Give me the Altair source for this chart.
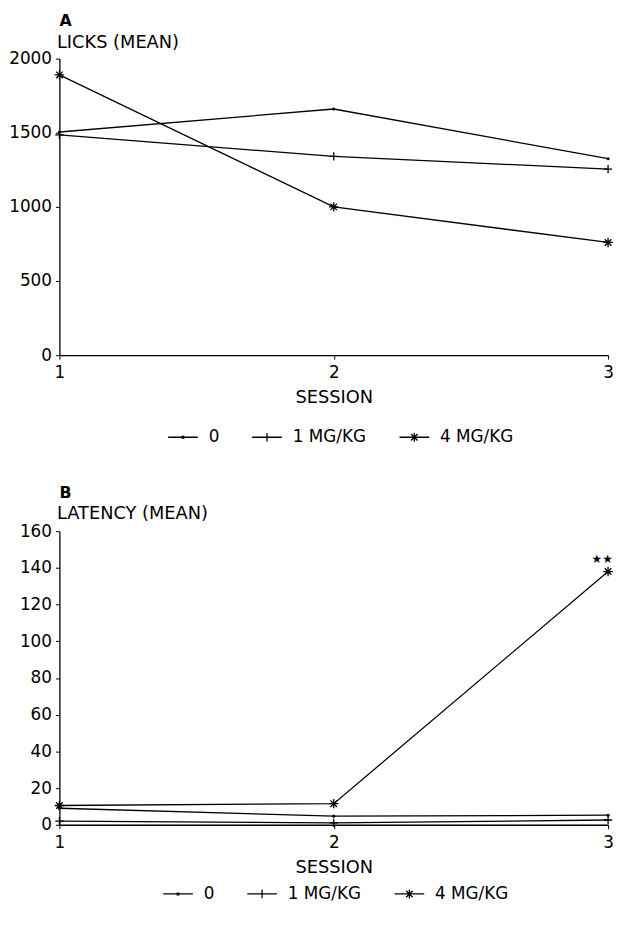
import altair as alt
import pandas as pd

# ---------------- data ----------------
sessions = [1, 2, 3]
groups = ["0", "1 MG/KG", "4 MG/KG"]

licks_0 = [1505, 1660, 1325]
licks_1 = [1485, 1340, 1255]
licks_4 = [1890, 1000, 760]

latency_0 = [9, 4.7, 5.2]
latency_1 = [2, 1, 2.6]
latency_4 = [10.5, 11.5, 138]

licks_ticks = [0, 500, 1000, 1500, 2000]
latency_ticks = [0, 20, 40, 60, 80, 100, 120, 140, 160]

sig_session = [3]
sig_value = [145]
sig_text = ["★★"]

# ---------------- style ----------------
FONT = "DejaVu Sans"
marker_shape = {
    "0": "circle",
    "1 MG/KG": "M-1,0L1,0M0,-1L0,1",
    "4 MG/KG": "M-1,0L1,0M0,-1L0,1M-0.7,-0.7L0.7,0.7M-0.7,0.7L0.7,-0.7",
}
marker_size = {"0": 10, "1 MG/KG": 70, "4 MG/KG": 90}
legend_paths = [
    "M-1.5,0L1.5,0M-0.08,-0.08L0.08,-0.08L0.08,0.08L-0.08,0.08Z",
    "M-1.5,0L1.5,0M0,-0.42L0,0.42",
    "M-1.5,0L1.5,0M0,-0.45L0,0.45M-0.33,-0.33L0.33,0.33M-0.33,0.33L0.33,-0.33",
]


def long_frame(series):
    rows = []
    for g, vals in zip(groups, series):
        for s, v in zip(sessions, vals):
            rows.append({"session": s, "group": g, "value": v})
    return pd.DataFrame(rows)


def panel(df, letter, ytitle, yticks, width, height, title_y, title_offset,
          legend_x, legend_y, note=None):
    x = alt.X(
        "session:Q",
        scale=alt.Scale(domain=[sessions[0], sessions[-1]], nice=False, zero=False),
        axis=alt.Axis(
            tickCount=len(sessions), tickMinStep=1, format="d", title="SESSION", grid=False,
            labelFont=FONT, labelFontSize=17, labelColor="black", labelPadding=6,
            tickSize=4, tickColor="black", domainColor="black", domainWidth=1.3,
            titleFont=FONT, titleFontSize=18, titleFontWeight="normal",
            titleColor="black", titlePadding=8, labelFlush=False, labelOverlap=False,
        ),
    )
    y = alt.Y(
        "value:Q",
        scale=alt.Scale(domain=[yticks[0], yticks[-1]], nice=False),
        axis=alt.Axis(
            values=yticks, format="d", title=ytitle, grid=False,
            labelFont=FONT, labelFontSize=17, labelColor="black", labelPadding=4,
            tickSize=4, tickColor="black", domainColor="black", domainWidth=1.3,
            titleFont=FONT, titleFontSize=18, titleFontWeight="normal",
            titleColor="black", titleAngle=0, titleAlign="left",
            titleBaseline="alphabetic", titleX=-3, titleY=title_y,
            labelOverlap=False,
        ),
    )
    base = alt.Chart(df)
    layers = [
        base.mark_line(color="black", strokeWidth=1.3).encode(
            x=x, y=y, detail="group:N"
        )
    ]
    for g in groups:
        layers.append(
            base.transform_filter(alt.datum.group == g)
            .mark_point(
                shape=marker_shape[g], size=marker_size[g], filled=(g == "0"),
                color="black", strokeWidth=1.3, opacity=1,
            )
            .encode(x=x, y=y)
        )
    layers.append(
        base.transform_filter("false")
        .mark_point(filled=False, color="black", strokeWidth=1.3, opacity=1)
        .encode(
            x=x, y=y,
            shape=alt.Shape(
                "group:N",
                scale=alt.Scale(domain=groups, range=legend_paths),
                legend=alt.Legend(
                    title=None, orient="none", direction="horizontal",
                    legendX=legend_x, legendY=legend_y,
                    symbolSize=400, symbolStrokeWidth=1.3,
                    symbolStrokeColor="black",
                    labelFont=FONT, labelFontSize=17, labelColor="black",
                    labelOffset=15, columnPadding=30, padding=0,
                    gridAlign="none",
                ),
            ),
        )
    )
    if note is not None:
        layers.append(
            alt.Chart(note)
            .mark_text(font=FONT, fontSize=12, color="black", dx=-6)
            .encode(x=x, y=y, text="text:N")
        )
    return alt.layer(*layers).properties(
        width=width, height=height,
        title=alt.TitleParams(
            letter, anchor="start", frame="group", font=FONT, fontSize=16,
            fontWeight="bold", color="black", offset=title_offset,
        ),
    )


licks_df = long_frame([licks_0, licks_1, licks_4])
latency_df = long_frame([latency_0, latency_1, latency_4])
note_df = pd.DataFrame({"session": sig_session, "value": sig_value, "text": sig_text})

panel_a = panel(licks_df, "A", "LICKS (MEAN)", licks_ticks, 555, 300, -11, 5, 114, 372)
panel_b = panel(latency_df, "B", "LATENCY (MEAN)", latency_ticks, 555, 297, -13, 4, 109, 356, note_df)

chart = (
    alt.vconcat(panel_a, panel_b, spacing=40)
    .resolve_scale(shape="independent")
    .resolve_legend(shape="independent")
    .properties(padding=0, background="white")
    .configure_view(stroke=None)
)

chart.save("out.html", embed_options={"renderer": "svg", "actions": False})
